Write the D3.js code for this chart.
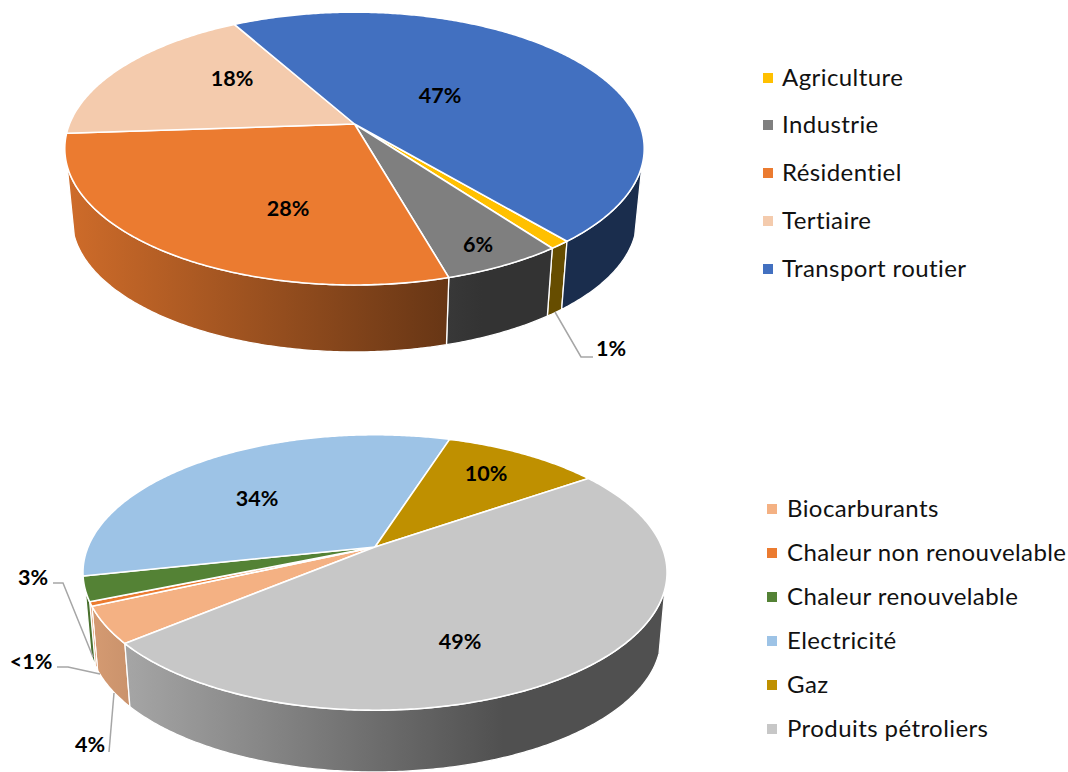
<!DOCTYPE html>
<html><head><meta charset="utf-8">
<script src="https://cdn.jsdelivr.net/npm/d3@7/dist/d3.min.js"></script>
<style>html,body{margin:0;background:#fff}svg{display:block}</style></head>
<body><svg id="c" width="1068" height="772"></svg>
<script>
// ---- data ----
const sectorNames = ["Agriculture","Industrie","Résidentiel","Tertiaire","Transport routier"];
const sectorValues = [1,5.7,28.3,18,47];
const sectorLabels = ["1%","6%","28%","18%","47%"];
const sectorColors = ["#FFC000","#7F7F7F","#EB7B30","#F4CBAD","#4270C0"];
const energyNames = ["Biocarburants","Chaleur non renouvelable","Chaleur renouvelable","Electricité","Gaz","Produits pétroliers"];
const energyValues = [4.3,0.5,2.9,33.3,10.4,48.6];
const energyLabels = ["4%","<1%","3%","34%","10%","49%"];
const energyColors = ["#F4B183","#EB7B30","#548235","#9DC3E6","#BF9000","#C7C7C7"];
// ---- layout ----
const sectorLabelPos = [[611,349],[478,245],[288,209],[232,79],[440,96]];
const energyLabelPos = [[90,745],[31,662],[33,578],[257,499],[486,474],[460,642]];
const sectorLeaders = [[[555,312],[581,357],[593,357]]];
const energyLeaders = [[[114,693],[109,752]],[[100,674],[68,667],[57,667]],[[93,657],[63,583],[53,583]]];

const svg = d3.select("#c");
const defs = svg.append("defs");
const FONT = "Lato, 'Open Sans', sans-serif";
let gid = 0;

function drawPie(o){
  const {cx,cy,R,Ry,k,s,depth,start,values,colors,labels,labelPos,leaders} = o;
  const proj = a => { const w=-Math.cos(a), d=1-k*w; return [cx+R*Math.sin(a)/d, cy+Ry*w/d]; };
  const low = a => { const p=proj(a); return [cx+s*(p[0]-cx), cy+s*(p[1]-cy)+depth]; };
  const pie = d3.pie().sort(null).startAngle(start).endAngle(start+2*Math.PI);
  const arcs = pie(values);
  const color = d3.scaleOrdinal(values.map((_,i)=>i), colors);
  const line = d3.line();
  const sample = (a,b) => { const n=Math.max(2,Math.ceil(Math.abs(b-a)/0.01)); return d3.range(n+1).map(i=>a+(b-a)*i/n); };
  const frontStart = Math.acos(-0.3), frontEnd = 2*Math.PI-Math.acos(-0.3);
  const left = cx-R*1.017, right = cx+R*1.017;
  function grad(col){
    const id="g"+(gid++); const g=defs.append("linearGradient").attr("id",id).attr("gradientUnits","userSpaceOnUse")
      .attr("x1",left).attr("x2",right).attr("y1",0).attr("y2",0);
    const c=d3.rgb(col);
    [[0,.88],[.72,.4],[1,.4]].forEach(([t,f])=>g.append("stop").attr("offset",t)
      .attr("stop-color",d3.rgb(c.r*f,c.g*f,c.b*f).formatHex()));
    return id;
  }
  const sides=svg.append("g"), tops=svg.append("g");
  const TAU=2*Math.PI;
  arcs.forEach(d=>{
    [0,TAU,-TAU].forEach(off=>{
      const a=Math.max(d.startAngle+off,frontStart), b=Math.min(d.endAngle+off,frontEnd);
      if(b<=a) return;
      const ang=sample(a,b);
      const pts=ang.map(proj).concat(ang.slice().reverse().map(low));
      sides.append("path").attr("d",line(pts)+"Z").attr("fill",`url(#${grad(color(d.index))})`)
        .attr("stroke","#fff").attr("stroke-width",1.3).attr("stroke-linejoin","round");
    });
  });
  arcs.forEach(d=>{
    const pts=[[cx,cy]].concat(sample(d.startAngle,d.endAngle).map(proj));
    tops.append("path").attr("d",line(pts)+"Z").attr("fill",color(d.index))
      .attr("stroke","#fff").attr("stroke-width",1.6).attr("stroke-linejoin","round");
  });
  leaders.forEach(l=>svg.append("path").attr("d",line(l)).attr("fill","none").attr("stroke","#A6A6A6").attr("stroke-width",1.5));
  svg.append("g").selectAll("text").data(labels).join("text")
    .attr("x",(_,i)=>labelPos[i][0]).attr("y",(_,i)=>labelPos[i][1]-1).attr("dy","0.35em")
    .attr("text-anchor","middle").attr("font-family",FONT).attr("font-weight",700)
    .attr("font-size",21.5).attr("fill","#000").text(d=>d);
}
function legend(names,colors,x,ys,tx){
  const g=svg.append("g");
  names.forEach((n,i)=>{
    g.append("rect").attr("x",x).attr("y",ys[i]-5).attr("width",10).attr("height",10).attr("fill",colors[i]);
    g.append("text").attr("x",tx).attr("y",ys[i]).attr("dy","0.35em").attr("font-family",FONT)
      .attr("font-size",24).attr("letter-spacing",0.42).attr("fill","#111").text(n);
  });
}
const rad=d3.scaleLinear().domain([0,360]).range([0,2*Math.PI]);
drawPie({cx:354.5,cy:124,R:285,Ry:132,k:.18,s:.975,depth:71,start:rad(140),values:sectorValues,colors:sectorColors,
  labels:sectorLabels,labelPos:sectorLabelPos,leaders:sectorLeaders});
drawPie({cx:375,cy:547,R:287,Ry:133,k:.185,s:.98,depth:65,start:rad(230.2),values:energyValues,colors:energyColors,
  labels:energyLabels,labelPos:energyLabelPos,leaders:energyLeaders});
legend(sectorNames,sectorColors,763,[78,125,173,221,269],782);
legend(energyNames,energyColors,767,[509,553,597,641,685,729],787);
</script></body></html>
